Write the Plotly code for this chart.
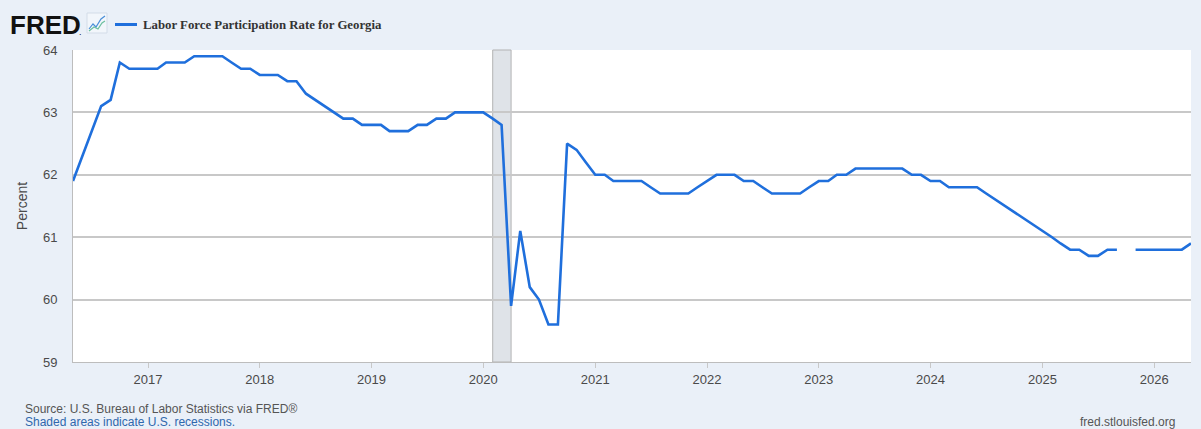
import plotly.graph_objects as go
import pandas as pd

# ---- data (monthly, Labor Force Participation Rate for Georgia, %) ----
start_month = "2016-05-01"
end_month = "2026-05-01"
values_2016 = [61.9, 62.3, 62.7, 63.1, 63.2, 63.8, 63.7, 63.7]  # May-Dec
values_2017 = [63.7, 63.7, 63.8, 63.8, 63.8, 63.9, 63.9, 63.9, 63.9, 63.8, 63.7, 63.7]
values_2018 = [63.6, 63.6, 63.6, 63.5, 63.5, 63.3, 63.2, 63.1, 63.0, 62.9, 62.9, 62.8]
values_2019 = [62.8, 62.8, 62.7, 62.7, 62.7, 62.8, 62.8, 62.9, 62.9, 63.0, 63.0, 63.0]
values_2020 = [63.0, 62.9, 62.8, 59.9, 61.1, 60.2, 60.0, 59.6, 59.6, 62.5, 62.4, 62.2]
values_2021 = [62.0, 62.0, 61.9, 61.9, 61.9, 61.9, 61.8, 61.7, 61.7, 61.7, 61.7, 61.8]
values_2022 = [61.9, 62.0, 62.0, 62.0, 61.9, 61.9, 61.8, 61.7, 61.7, 61.7, 61.7, 61.8]
values_2023 = [61.9, 61.9, 62.0, 62.0, 62.1, 62.1, 62.1, 62.1, 62.1, 62.1, 62.0, 62.0]
values_2024 = [61.9, 61.9, 61.8, 61.8, 61.8, 61.8, 61.7, 61.6, 61.5, 61.4, 61.3, 61.2]
values_2025 = [61.1, 61.0, 60.9, 60.8, 60.8, 60.7, 60.7, 60.8, 60.8, None, 60.8, 60.8]
values_2026 = [60.8, 60.8, 60.8, 60.8, 60.9]  # Jan-May

recession_start = "2020-02-01"
recession_end = "2020-04-01"

y_ticks = [59, 60, 61, 62, 63, 64]
x_tick_years = list(range(2017, 2027))

series_name = "Labor Force Participation Rate for Georgia"

values = (values_2016 + values_2017 + values_2018 + values_2019 + values_2020 +
          values_2021 + values_2022 + values_2023 + values_2024 + values_2025 + values_2026)
dates = pd.date_range(start_month, end_month, freq="MS")
assert len(dates) == len(values)

# ---- layout geometry ----
W, H = 1201, 429
L, R, T, B = 73, 10, 50, 67
PW, PH = W - L - R, H - T - B

def fx(px):
    return (px - L) / PW

def fy(py):
    return (H - B - py) / PH

BG = "#eaf0f8"
LINE = "#1f6fdc"
GRID = "#c8c8c8"
TXT = "#4a4a4a"

fig = go.Figure()
fig.add_trace(go.Scatter(
    x=dates, y=values, mode="lines", name=series_name,
    line=dict(color=LINE, width=2.6), connectgaps=False, showlegend=False,
))

# recession shading
fig.add_shape(type="rect", xref="x", yref="paper", x0=recession_start, x1=recession_end,
              y0=0, y1=1, fillcolor="#dfe3e8", line=dict(color="#b3b3b3", width=1), layer="below")

# legend line sample + title
fig.add_shape(type="line", xref="paper", yref="paper", x0=fx(115), x1=fx(137), y0=fy(24.5), y1=fy(24.5),
              line=dict(color=LINE, width=3))
fig.add_annotation(xref="paper", yref="paper", x=fx(141), y=fy(24.5), xanchor="left", yanchor="middle",
                   text="<b>" + series_name + "</b>", showarrow=False,
                   font=dict(family="Liberation Serif", size=12.8, color="#333333"))

# FRED logo text
fig.add_annotation(xref="paper", yref="paper", x=fx(8), y=fy(25), xanchor="left", yanchor="middle",
                   text="<b>FRED</b>", showarrow=False,
                   font=dict(family="Liberation Sans", size=26, color="#111111"))
fig.add_annotation(xref="paper", yref="paper", x=fx(77), y=fy(32), xanchor="left", yanchor="middle",
                   text=".", showarrow=False,
                   font=dict(family="Liberation Sans", size=9, color="#111111"))
# small icon
fig.add_shape(type="rect", xref="paper", yref="paper", x0=fx(87), x1=fx(107), y0=fy(33), y1=fy(13),
              fillcolor="#f2f6fb", line=dict(color="#d3dce8", width=1))

def pts_path(pts):
    return "M " + " L ".join(f"{fx(a)},{fy(b)}" for a, b in pts)

fig.add_shape(type="path", xref="paper", yref="paper",
              path=pts_path([(89, 29), (93, 24), (96, 27), (101, 19), (105, 16)]),
              line=dict(color="#4a8fd8", width=1.2))
fig.add_shape(type="path", xref="paper", yref="paper",
              path=pts_path([(89, 31), (94, 27), (98, 29), (102, 23), (105, 21)]),
              line=dict(color="#6cc0a0", width=1.2))

# footer
fig.add_annotation(xref="paper", yref="paper", x=fx(23), y=fy(409), xanchor="left", yanchor="middle",
                   text="Source: U.S. Bureau of Labor Statistics via FRED®", showarrow=False,
                   font=dict(family="Liberation Sans", size=12, color="#555555"))
fig.add_annotation(xref="paper", yref="paper", x=fx(23), y=fy(422), xanchor="left", yanchor="middle",
                   text="Shaded areas indicate U.S. recessions.", showarrow=False,
                   font=dict(family="Liberation Sans", size=12, color="#2f68ad"))
fig.add_annotation(xref="paper", yref="paper", x=fx(1177), y=fy(422), xanchor="right", yanchor="middle",
                   text="fred.stlouisfed.org", showarrow=False,
                   font=dict(family="Liberation Sans", size=12, color="#555555"))

fig.update_layout(
    width=W, height=H,
    margin=dict(l=L, r=R, t=T, b=B, autoexpand=False),
    paper_bgcolor=BG, plot_bgcolor="white",
    font=dict(family="Liberation Sans", size=13, color=TXT),
    showlegend=False,
)
fig.update_xaxes(
    range=[start_month, end_month],
    tickvals=[f"{y}-01-01" for y in x_tick_years],
    ticktext=[str(y) for y in x_tick_years],
    showgrid=False, showline=True, linecolor="#bdbdbd", linewidth=1,
    ticks="outside", ticklen=5, tickcolor="#c8c8c8",
    tickfont=dict(size=13, color=TXT), zeroline=False,
)
fig.update_yaxes(
    range=[59, 64], tickvals=y_ticks,
    showgrid=True, gridcolor=GRID, gridwidth=1.5,
    showline=True, linecolor="#bdbdbd", linewidth=1,
    ticks="", ticklabelstandoff=12,
    tickfont=dict(size=13, color=TXT), zeroline=False,
    title=dict(text="Percent", font=dict(size=14, color=TXT), standoff=12),
)

fig.write_html(
    "out.html",
    config={"displayModeBar": False},
    post_script="document.body.style.margin='0';document.body.style.background='" + BG + "';",
)
